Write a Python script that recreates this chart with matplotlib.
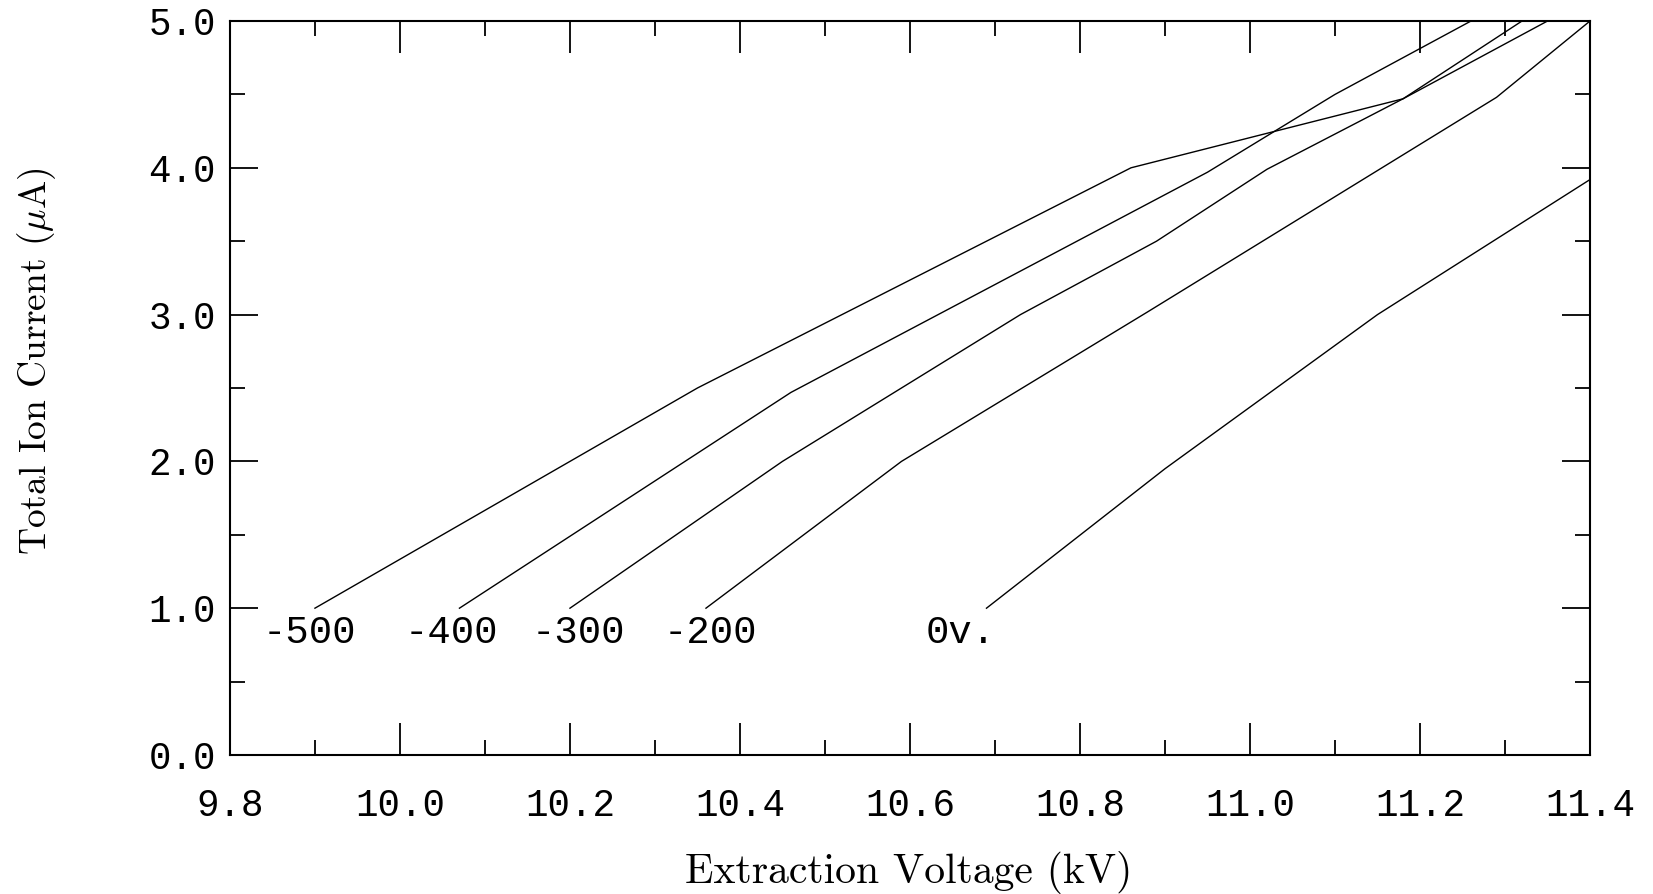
import matplotlib
matplotlib.use("Agg")
import matplotlib.pyplot as plt
from matplotlib.ticker import FixedLocator, MultipleLocator, FormatStrFormatter

# extraction voltage (kV) vs total ion current (uA), one curve per bias
v_500 = [9.90, 10.35, 10.86, 11.18, 11.32]
i_500 = [1.00, 2.50, 4.00, 4.47, 5.00]

v_400 = [10.07, 10.46, 10.95, 11.10, 11.26]
i_400 = [1.00, 2.47, 3.97, 4.50, 5.00]

v_300 = [10.20, 10.45, 10.73, 10.89, 11.02, 11.18, 11.35]
i_300 = [1.00, 2.00, 3.00, 3.50, 3.99, 4.47, 5.00]

v_200 = [10.36, 10.59, 10.88, 11.29, 11.40]
i_200 = [1.00, 2.00, 3.02, 4.48, 5.00]

v_0 = [10.69, 10.90, 11.15, 11.40]
i_0 = [1.00, 1.95, 3.00, 3.92]

curve_labels = ["-500", "-400", "-300", "-200", "0v."]
label_x = [9.893, 10.06, 10.21, 10.365, 10.66]
label_y = [0.83, 0.83, 0.83, 0.83, 0.83]

x_ticks = [9.8, 10.0, 10.2, 10.4, 10.6, 10.8, 11.0, 11.2, 11.4]
y_ticks = [0.0, 1.0, 2.0, 3.0, 4.0, 5.0]

mono = "Liberation Mono"
serif = "cmr10"
plt.rcParams["mathtext.fontset"] = "cm"
plt.rcParams["axes.formatter.use_mathtext"] = True

fig = plt.figure(figsize=(16.53, 8.94), dpi=100)
ax = fig.add_axes([0.1391, 0.1555, 0.8228, 0.821])

for v, i in [(v_500, i_500), (v_400, i_400), (v_300, i_300), (v_200, i_200), (v_0, i_0)]:
    ax.plot(v, i, color="black", lw=1.0)

for lab, x, y in zip(curve_labels, label_x, label_y):
    ax.text(x, y, lab, family=mono, fontsize=28, ha="center", va="center")

ax.set_xlim(9.8, 11.4)
ax.set_ylim(0.0, 5.0)
ax.xaxis.set_major_locator(FixedLocator(x_ticks))
ax.yaxis.set_major_locator(FixedLocator(y_ticks))
ax.xaxis.set_minor_locator(MultipleLocator(0.1))
ax.yaxis.set_minor_locator(MultipleLocator(0.5))
ax.xaxis.set_major_formatter(FormatStrFormatter("%.1f"))
ax.yaxis.set_major_formatter(FormatStrFormatter("%.1f"))

ax.tick_params(which="both", direction="in", top=True, right=True, width=1.3, color="black")
ax.tick_params(axis="x", which="major", length=23, pad=24)
ax.tick_params(axis="x", which="minor", length=11)
ax.tick_params(axis="y", which="major", length=20, pad=10)
ax.tick_params(axis="y", which="minor", length=11)
for lab in ax.get_xticklabels() + ax.get_yticklabels():
    lab.set_family(mono)
    lab.set_fontsize(27)

for sp in ax.spines.values():
    sp.set_linewidth(1.5)

fig.text(909 / 1653, 1 - 873 / 894, "Extraction Voltage (kV)", family=serif,
         fontsize=30, ha="center", va="center")
fig.text(37 / 1653, 1 - 361 / 894, r"Total Ion Current ($\mu$A)", family=serif,
         fontsize=27, ha="center", va="center", rotation=90)

fig.savefig("out.png", dpi=100)
